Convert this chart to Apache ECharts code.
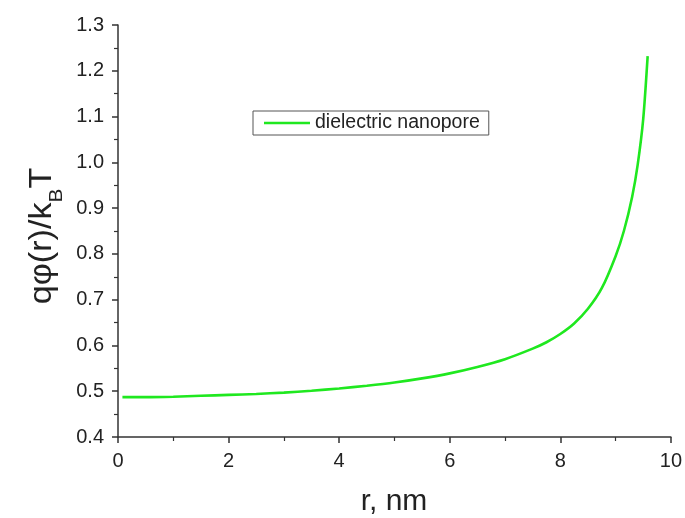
<!DOCTYPE html>
<html>
<head>
<meta charset="utf-8">
<script src="https://cdn.jsdelivr.net/npm/echarts@6/dist/echarts.min.js"></script>
<style>
  html, body { margin: 0; padding: 0; background: #fff; }
  #chart { width: 685px; height: 518px; }
</style>
</head>
<body>
<div id="chart"></div>
<script>
// Radial position inside the pore (nm)
const radius = [0.08, 0.5, 1.0, 1.5, 2.0, 2.5, 3.0, 3.5, 4.0, 4.5, 5.0, 5.5, 6.0, 6.5, 7.0, 7.5, 7.75, 8.0, 8.25, 8.5, 8.75, 9.0, 9.15, 9.3, 9.4, 9.5, 9.58];
// Reduced electrostatic potential q·φ(r)/kBT
const potential = [0.487, 0.487, 0.488, 0.490, 0.492, 0.494, 0.497, 0.501, 0.506, 0.512, 0.519, 0.528, 0.539, 0.553, 0.570, 0.593, 0.607, 0.625, 0.648, 0.680, 0.725, 0.795, 0.850, 0.925, 0.995, 1.095, 1.232];
const seriesName = 'dielectric nanopore';

const chart = echarts.init(document.getElementById('chart'), null, { renderer: 'canvas' });
const font = 'Liberation Sans, Arial, sans-serif';
const ink = '#222';
const axisColor = '#333';

chart.setOption({
  animation: false,
  backgroundColor: '#ffffff',
  grid: { left: 118, right: 12, top: 25, bottom: 81 },
  legend: {
    left: 253, top: 111,
    padding: [2, 9, 2, 11],
    itemWidth: 46, itemHeight: 14,
    itemGap: 6,
    borderColor: '#555', borderWidth: 1,
    textStyle: { fontFamily: font, fontSize: 19.5, lineHeight: 20, color: ink },
    data: [{ name: seriesName, icon: 'path://M0,6 L46,6 L46,8.6 L0,8.6 Z' }]
  },
  xAxis: {
    type: 'value', min: 0, max: 10, interval: 2,
    axisLine: { show: true, onZero: false, lineStyle: { color: axisColor, width: 1.5 } },
    axisTick: { show: true, inside: false, length: 6, lineStyle: { color: axisColor, width: 1.5 } },
    minorTick: { show: true, splitNumber: 2, length: 4, lineStyle: { color: axisColor, width: 1.2 } },
    splitLine: { show: false },
    axisLabel: { fontFamily: font, fontSize: 20, color: ink, margin: 14 }
  },
  yAxis: {
    type: 'value', min: 0.4, max: 1.3, interval: 0.1,
    axisLine: { show: true, onZero: false, lineStyle: { color: axisColor, width: 1.5 } },
    axisTick: { show: true, inside: false, length: 6, lineStyle: { color: axisColor, width: 1.5 } },
    minorTick: { show: true, splitNumber: 2, length: 4, lineStyle: { color: axisColor, width: 1.2 } },
    splitLine: { show: false },
    axisLabel: { fontFamily: font, fontSize: 20, color: ink, margin: 14,
      formatter: v => v.toFixed(1) }
  },
  graphic: [
    {
      type: 'text', x: 394, y: 502,
      style: { text: 'r, nm', font: '30px ' + font, fill: ink, align: 'center', verticalAlign: 'middle' }
    },
    {
      type: 'text', x: 40, y: 236, rotation: Math.PI / 2, scaleX: 1.1,
      style: {
        text: '{a|qφ(r)/k}{b|B}{a|T}',
        align: 'center', verticalAlign: 'middle',
        rich: {
          a: { fontFamily: font, fontSize: 31, fill: ink, lineHeight: 36, verticalAlign: 'bottom' },
          b: { fontFamily: font, fontSize: 19, fill: ink, lineHeight: 36, verticalAlign: 'bottom', padding: [0, 0, -8, 0] }
        }
      }
    }
  ],
  series: [{
    name: seriesName,
    type: 'line',
    smooth: 0.25,
    showSymbol: false,
    lineStyle: { color: '#1fe81f', width: 2.6 },
    itemStyle: { color: '#1fe81f' },
    data: radius.map((r, i) => [r, potential[i]])
  }]
});
</script>
</body>
</html>
